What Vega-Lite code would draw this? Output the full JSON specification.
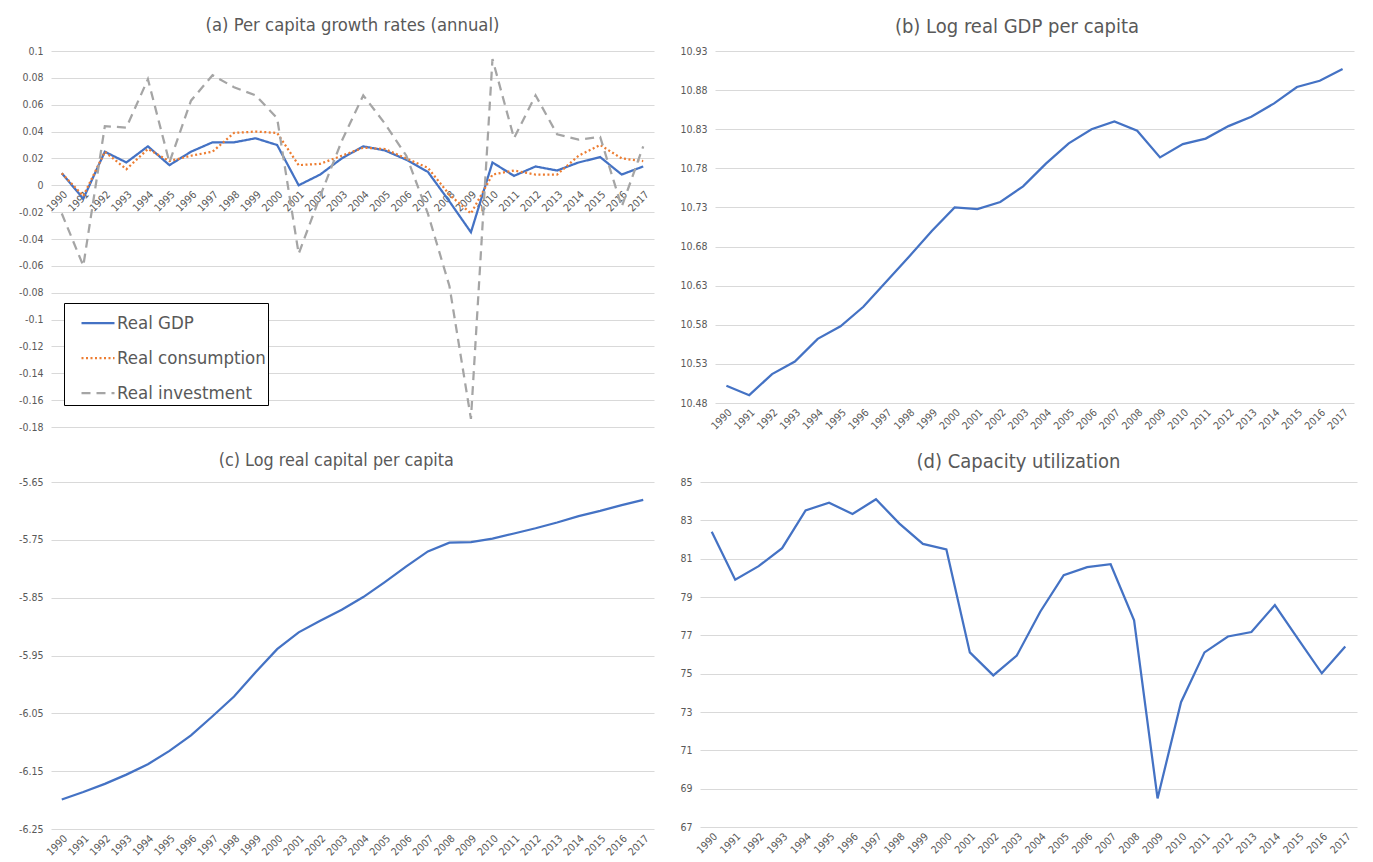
{
  "$schema": "https://vega.github.io/schema/vega-lite/v6.json",
  "background": "white",
  "padding": {"left": 18, "top": 16, "right": 5, "bottom": 0},
  "config": {
    "view": {"stroke": null},
    "font": "DejaVu Sans Condensed",
    "axis": {"labelFont": "DejaVu Sans Condensed", "labelColor": "#595959", "labelFontSize": 10.5, "ticks": false, "domain": false, "gridColor": "#d9d9d9", "gridWidth": 1, "title": null},
    "axisX": {"grid": false, "labelAngle": -45, "labelPadding": 4},
    "axisY": {"labelPadding": 8},
    "title": {"font": "DejaVu Sans Condensed", "fontSize": 20, "fontWeight": "normal", "color": "#595959", "offset": 9, "frame": "bounds"},
    "line": {"strokeWidth": 2.25, "color": "#4472C4"}
  },
  "datasets": {
    "growth": [
      {"year": 1990, "series": "Real GDP", "value": 0.009},
      {"year": 1991, "series": "Real GDP", "value": -0.010},
      {"year": 1992, "series": "Real GDP", "value": 0.025},
      {"year": 1993, "series": "Real GDP", "value": 0.017},
      {"year": 1994, "series": "Real GDP", "value": 0.029},
      {"year": 1995, "series": "Real GDP", "value": 0.015},
      {"year": 1996, "series": "Real GDP", "value": 0.025},
      {"year": 1997, "series": "Real GDP", "value": 0.032},
      {"year": 1998, "series": "Real GDP", "value": 0.032},
      {"year": 1999, "series": "Real GDP", "value": 0.035},
      {"year": 2000, "series": "Real GDP", "value": 0.030},
      {"year": 2001, "series": "Real GDP", "value": 0.000},
      {"year": 2002, "series": "Real GDP", "value": 0.008},
      {"year": 2003, "series": "Real GDP", "value": 0.020},
      {"year": 2004, "series": "Real GDP", "value": 0.029},
      {"year": 2005, "series": "Real GDP", "value": 0.026},
      {"year": 2006, "series": "Real GDP", "value": 0.019},
      {"year": 2007, "series": "Real GDP", "value": 0.010},
      {"year": 2008, "series": "Real GDP", "value": -0.012},
      {"year": 2009, "series": "Real GDP", "value": -0.035},
      {"year": 2010, "series": "Real GDP", "value": 0.017},
      {"year": 2011, "series": "Real GDP", "value": 0.007},
      {"year": 2012, "series": "Real GDP", "value": 0.014},
      {"year": 2013, "series": "Real GDP", "value": 0.011},
      {"year": 2014, "series": "Real GDP", "value": 0.017},
      {"year": 2015, "series": "Real GDP", "value": 0.021},
      {"year": 2016, "series": "Real GDP", "value": 0.008},
      {"year": 2017, "series": "Real GDP", "value": 0.014},
      {"year": 1990, "series": "Real consumption", "value": 0.009},
      {"year": 1991, "series": "Real consumption", "value": -0.008},
      {"year": 1992, "series": "Real consumption", "value": 0.025},
      {"year": 1993, "series": "Real consumption", "value": 0.012},
      {"year": 1994, "series": "Real consumption", "value": 0.027},
      {"year": 1995, "series": "Real consumption", "value": 0.018},
      {"year": 1996, "series": "Real consumption", "value": 0.022},
      {"year": 1997, "series": "Real consumption", "value": 0.025},
      {"year": 1998, "series": "Real consumption", "value": 0.039},
      {"year": 1999, "series": "Real consumption", "value": 0.040},
      {"year": 2000, "series": "Real consumption", "value": 0.039},
      {"year": 2001, "series": "Real consumption", "value": 0.015},
      {"year": 2002, "series": "Real consumption", "value": 0.016},
      {"year": 2003, "series": "Real consumption", "value": 0.022},
      {"year": 2004, "series": "Real consumption", "value": 0.028},
      {"year": 2005, "series": "Real consumption", "value": 0.027},
      {"year": 2006, "series": "Real consumption", "value": 0.020},
      {"year": 2007, "series": "Real consumption", "value": 0.013},
      {"year": 2008, "series": "Real consumption", "value": -0.007},
      {"year": 2009, "series": "Real consumption", "value": -0.021},
      {"year": 2010, "series": "Real consumption", "value": 0.008},
      {"year": 2011, "series": "Real consumption", "value": 0.011},
      {"year": 2012, "series": "Real consumption", "value": 0.008},
      {"year": 2013, "series": "Real consumption", "value": 0.008},
      {"year": 2014, "series": "Real consumption", "value": 0.022},
      {"year": 2015, "series": "Real consumption", "value": 0.030},
      {"year": 2016, "series": "Real consumption", "value": 0.020},
      {"year": 2017, "series": "Real consumption", "value": 0.018},
      {"year": 1990, "series": "Real investment", "value": -0.021},
      {"year": 1991, "series": "Real investment", "value": -0.060},
      {"year": 1992, "series": "Real investment", "value": 0.044},
      {"year": 1993, "series": "Real investment", "value": 0.043},
      {"year": 1994, "series": "Real investment", "value": 0.079},
      {"year": 1995, "series": "Real investment", "value": 0.017},
      {"year": 1996, "series": "Real investment", "value": 0.063},
      {"year": 1997, "series": "Real investment", "value": 0.082},
      {"year": 1998, "series": "Real investment", "value": 0.073},
      {"year": 1999, "series": "Real investment", "value": 0.067},
      {"year": 2000, "series": "Real investment", "value": 0.050},
      {"year": 2001, "series": "Real investment", "value": -0.051},
      {"year": 2002, "series": "Real investment", "value": -0.008},
      {"year": 2003, "series": "Real investment", "value": 0.033},
      {"year": 2004, "series": "Real investment", "value": 0.067},
      {"year": 2005, "series": "Real investment", "value": 0.046},
      {"year": 2006, "series": "Real investment", "value": 0.022},
      {"year": 2007, "series": "Real investment", "value": -0.021},
      {"year": 2008, "series": "Real investment", "value": -0.075},
      {"year": 2009, "series": "Real investment", "value": -0.174},
      {"year": 2010, "series": "Real investment", "value": 0.094},
      {"year": 2011, "series": "Real investment", "value": 0.035},
      {"year": 2012, "series": "Real investment", "value": 0.067},
      {"year": 2013, "series": "Real investment", "value": 0.038},
      {"year": 2014, "series": "Real investment", "value": 0.034},
      {"year": 2015, "series": "Real investment", "value": 0.036},
      {"year": 2016, "series": "Real investment", "value": -0.016},
      {"year": 2017, "series": "Real investment", "value": 0.029}
    ],
    "levels": [
      {"year": 1990, "gdp": 10.502, "cap": -6.199, "cu": 82.40},
      {"year": 1991, "gdp": 10.490, "cap": -6.186, "cu": 79.90},
      {"year": 1992, "gdp": 10.517, "cap": -6.172, "cu": 80.61},
      {"year": 1993, "gdp": 10.533, "cap": -6.156, "cu": 81.55},
      {"year": 1994, "gdp": 10.562, "cap": -6.138, "cu": 83.52},
      {"year": 1995, "gdp": 10.578, "cap": -6.115, "cu": 83.92},
      {"year": 1996, "gdp": 10.603, "cap": -6.088, "cu": 83.33},
      {"year": 1997, "gdp": 10.635, "cap": -6.055, "cu": 84.10},
      {"year": 1998, "gdp": 10.667, "cap": -6.021, "cu": 82.83},
      {"year": 1999, "gdp": 10.700, "cap": -5.979, "cu": 81.77},
      {"year": 2000, "gdp": 10.730, "cap": -5.939, "cu": 81.48},
      {"year": 2001, "gdp": 10.728, "cap": -5.910, "cu": 76.11},
      {"year": 2002, "gdp": 10.737, "cap": -5.890, "cu": 74.91},
      {"year": 2003, "gdp": 10.757, "cap": -5.871, "cu": 75.94},
      {"year": 2004, "gdp": 10.786, "cap": -5.849, "cu": 78.23},
      {"year": 2005, "gdp": 10.812, "cap": -5.823, "cu": 80.14},
      {"year": 2006, "gdp": 10.830, "cap": -5.796, "cu": 80.56},
      {"year": 2007, "gdp": 10.840, "cap": -5.770, "cu": 80.71},
      {"year": 2008, "gdp": 10.828, "cap": -5.755, "cu": 77.78},
      {"year": 2009, "gdp": 10.794, "cap": -5.754, "cu": 68.49},
      {"year": 2010, "gdp": 10.811, "cap": -5.748, "cu": 73.51},
      {"year": 2011, "gdp": 10.818, "cap": -5.739, "cu": 76.11},
      {"year": 2012, "gdp": 10.834, "cap": -5.730, "cu": 76.94},
      {"year": 2013, "gdp": 10.846, "cap": -5.720, "cu": 77.17},
      {"year": 2014, "gdp": 10.863, "cap": -5.709, "cu": 78.58},
      {"year": 2015, "gdp": 10.884, "cap": -5.700, "cu": 76.79},
      {"year": 2016, "gdp": 10.892, "cap": -5.690, "cu": 75.02},
      {"year": 2017, "gdp": 10.907, "cap": -5.681, "cu": 76.42}
    ]
  },
  "vconcat": [
    {
      "hconcat": [
        {
          "width": 603, "height": 376,
          "title": {"text": "(a) Per capita growth  rates (annual)", "frame": "group", "fontSize": 18.3, "offset": 10.7},
          "data": {"name": "growth"},
          "mark": {"type": "line", "strokeWidth": 2.25},
          "encoding": {
            "x": {"field": "year", "type": "ordinal", "scale": {"padding": 0.5}, "axis": {"offset": -242}},
            "y": {"field": "value", "type": "quantitative", "scale": {"domain": [-0.18, 0.1], "nice": false, "zero": false},
                  "axis": {"values": [-0.18, -0.16, -0.14, -0.12, -0.1, -0.08, -0.06, -0.04, -0.02, 0, 0.02, 0.04, 0.06, 0.08, 0.1], "labelExpr": "datum.value + ''"}},
            "color": {"field": "series", "type": "nominal", "sort": ["Real GDP", "Real consumption", "Real investment"],
                      "scale": {"domain": ["Real GDP", "Real consumption", "Real investment"], "range": ["#4472C4", "#ED7D31", "#A5A5A5"]},
                      "legend": {"orient": "none", "legendX": 13, "legendY": 252, "title": null, "strokeColor": "#000000", "fillColor": "white", "padding": 2, "symbolType": "stroke", "symbolSize": 1089, "symbolStrokeWidth": 2.25, "symbolOffset": 14, "labelOffset": 1, "labelFontSize": 18.5, "labelColor": "#595959", "labelFont": "DejaVu Sans Condensed", "rowPadding": 7}},
            "strokeDash": {"field": "series", "type": "nominal",
                      "scale": {"domain": ["Real GDP", "Real consumption", "Real investment"], "range": [[1, 0], [2, 2.5], [9, 6]]},
                      "legend": {"orient": "none", "legendX": 13, "legendY": 252, "title": null}},
            "order": {"field": "year"}
          }
        },
        {
          "width": 639, "height": 352,
          "title": {"text": "(b) Log real GDP per  capita"},
          "data": {"name": "levels"},
          "mark": {"type": "line", "strokeWidth": 2.25, "color": "#4472C4"},
          "encoding": {
            "x": {"field": "year", "type": "ordinal", "scale": {"padding": 0.5}},
            "y": {"field": "gdp", "type": "quantitative", "scale": {"domain": [10.48, 10.93], "nice": false, "zero": false},
                  "axis": {"values": [10.48, 10.53, 10.58, 10.63, 10.68, 10.73, 10.78, 10.83, 10.88, 10.93], "labelExpr": "datum.value + ''"}}
          }
        }
      ],
      "spacing": 25
    },
    {
      "hconcat": [
        {
          "width": 603, "height": 347,
          "title": {"text": "(c) Log real capital per capita", "fontSize": 17.8, "offset": 7.2},
          "data": {"name": "levels"},
          "mark": {"type": "line", "strokeWidth": 2.25, "color": "#4472C4"},
          "encoding": {
            "x": {"field": "year", "type": "ordinal", "scale": {"padding": 0.5}},
            "y": {"field": "cap", "type": "quantitative", "scale": {"domain": [-6.25, -5.65], "nice": false, "zero": false},
                  "axis": {"values": [-6.25, -6.15, -6.05, -5.95, -5.85, -5.75, -5.65], "labelExpr": "datum.value + ''"}}
          }
        },
        {
          "width": 657, "height": 345,
          "title": {"text": "(d) Capacity utilization", "offset": 5},
          "data": {"name": "levels"},
          "mark": {"type": "line", "strokeWidth": 2.25, "color": "#4472C4"},
          "encoding": {
            "x": {"field": "year", "type": "ordinal", "scale": {"padding": 0.5}},
            "y": {"field": "cu", "type": "quantitative", "scale": {"domain": [67, 85], "nice": false, "zero": false},
                  "axis": {"values": [67, 69, 71, 73, 75, 77, 79, 81, 83, 85], "labelExpr": "datum.value + ''"}}
          }
        }
      ],
      "spacing": 25
    }
  ],
  "spacing": 19
}
